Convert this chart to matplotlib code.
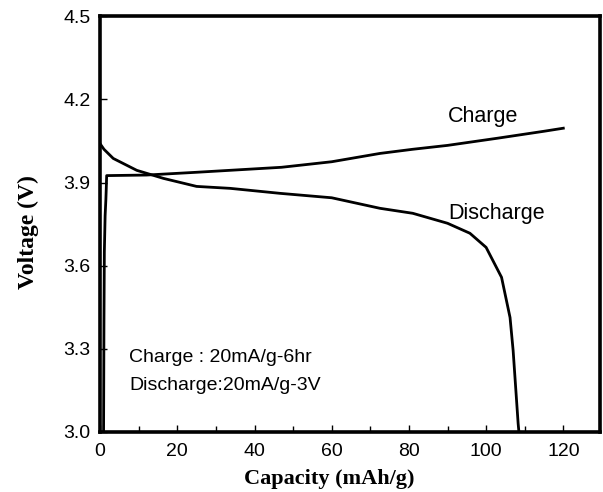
import matplotlib
matplotlib.use('Agg')
import matplotlib.pyplot as plt
from matplotlib.ticker import MultipleLocator

# charge / discharge curves
charge_cap = [0.9, 1.0, 1.1, 1.3, 1.5, 1.6, 1.7, 12, 25, 47, 60, 72.5, 81, 90, 103, 115, 120]
charge_v = [3.0, 3.4, 3.65, 3.78, 3.84, 3.88, 3.925, 3.927, 3.937, 3.955, 3.975, 4.005,
            4.02, 4.034, 4.06, 4.085, 4.096]

discharge_cap = [0, 1, 3.4, 9.5, 16.4, 25, 33.7, 46.6, 60, 72.5, 81, 90, 95.8, 100,
                 104, 106.2, 107, 108.3, 108.5]
discharge_v = [4.04, 4.02, 3.987, 3.944, 3.915, 3.886, 3.879, 3.861, 3.845, 3.807, 3.789,
               3.753, 3.717, 3.666, 3.558, 3.413, 3.294, 3.03, 3.0]

x_ticks = [0, 20, 40, 60, 80, 100, 120]
y_ticks = [3.0, 3.3, 3.6, 3.9, 4.2, 4.5]

fig = plt.figure(figsize=(6.03, 4.92), dpi=100)
ax = fig.add_axes([0.166, 0.122, 0.829, 0.845])

ax.plot(charge_cap, charge_v, color='black', lw=2)
ax.plot(discharge_cap, discharge_v, color='black', lw=2)

ax.set_xlim(0, 129.5)
ax.set_ylim(3.0, 4.5)
ax.set_xticks(x_ticks)
ax.set_yticks(y_ticks)
ax.xaxis.set_minor_locator(MultipleLocator(10))
ax.set_yticklabels([f'{v:.1f}' for v in y_ticks])

for s in ax.spines.values():
    s.set_linewidth(2.6)

ax.tick_params(which='both', direction='in', length=5, width=1)
ax.tick_params(axis='x', pad=8)
ax.tick_params(axis='y', pad=7)
ax.tick_params(which='minor', length=4)
for lab in ax.get_xticklabels() + ax.get_yticklabels():
    lab.set_fontfamily('Liberation Sans')
    lab.set_fontsize(14)

ax.set_xlabel('Capacity (mAh/g)', fontfamily='Liberation Serif', fontweight='bold',
              fontsize=16)
ax.xaxis.set_label_coords(0.458, -0.09)
ax.set_ylabel('Voltage (V)', fontfamily='Liberation Serif', fontweight='bold',
              fontsize=17)
ax.yaxis.set_label_coords(-0.123, 0.48)

ax.text(99.2, 4.139, 'Charge', fontfamily='Liberation Sans', fontsize=15.5,
        ha='center', va='center')
ax.text(102.8, 3.789, 'Discharge', fontfamily='Liberation Sans', fontsize=15.5,
        ha='center', va='center')
ax.text(7.5, 3.269, 'Charge : 20mA/g-6hr', fontfamily='Liberation Sans', fontsize=14,
        ha='left', va='center')
ax.text(7.5, 3.168, 'Discharge:20mA/g-3V', fontfamily='Liberation Sans', fontsize=14,
        ha='left', va='center')

plt.savefig('out.png', dpi=100)
plt.close()
